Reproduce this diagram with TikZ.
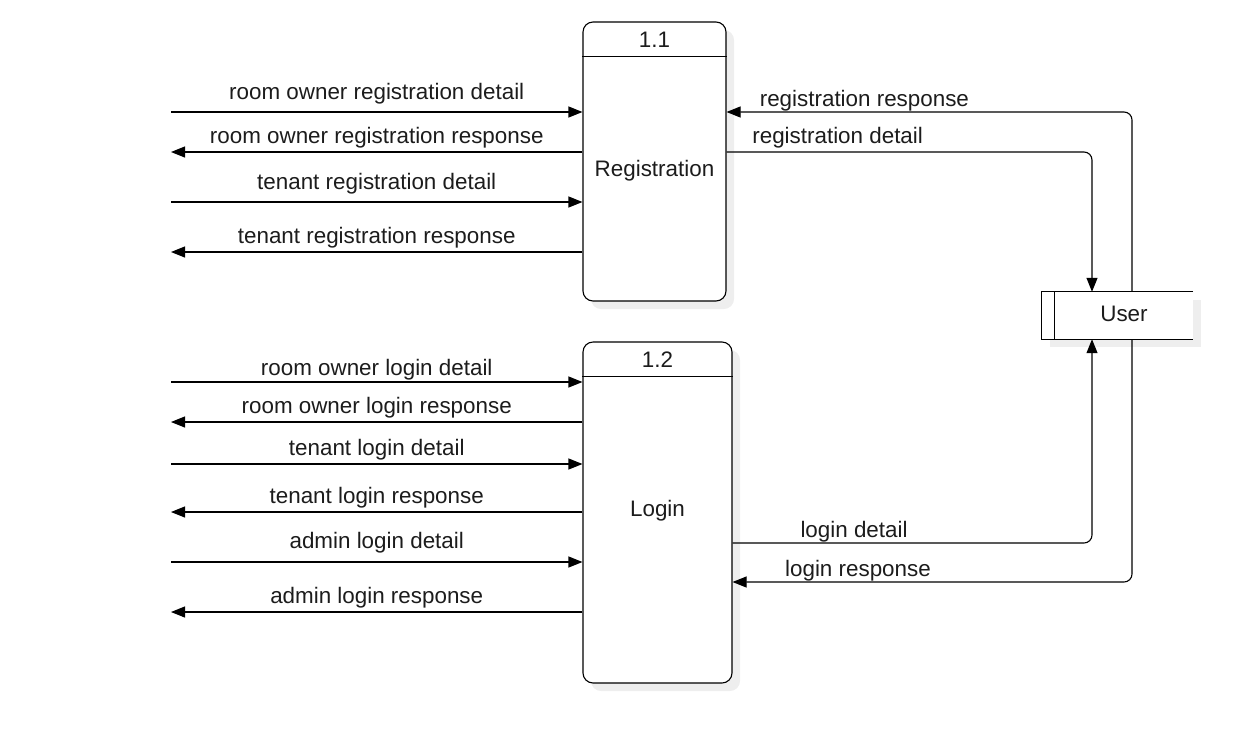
\documentclass[tikz,border=0pt]{standalone}
\usepackage{fontspec}
\setmainfont{Liberation Sans}
\usepackage{tikz}
\usetikzlibrary{arrows.meta,positioning,calc,shadows}
\definecolor{inkgray}{HTML}{1C1C1C}
\definecolor{shadegray}{HTML}{EEEEEE}
\tikzset{
  procbox/.style={rectangle, rounded corners=10pt, draw=black, line width=1.1pt, fill=white, inner sep=0pt,
                  drop shadow={shadow xshift=8pt, shadow yshift=-8pt, fill=shadegray, opacity=1}},
  storebox/.style={rectangle, draw=none, fill=white, inner sep=0pt, minimum width=151pt, minimum height=47pt,
                   drop shadow={shadow xshift=8pt, shadow yshift=-8pt, fill=shadegray, opacity=1}},
  lbl/.style={font=\fontsize{22.4}{26}\selectfont, text=inkgray, inner sep=3pt},
  flow/.style={-{Triangle[length=14pt, width=11pt]}, line width=1.1pt, rounded corners=8pt},
  edge/.style={line width=1.1pt},
}

\begin{document}
\begin{tikzpicture}[x=1pt, y=-1pt]
        \useasboundingbox (0,0) rectangle (1242,732);
        % processes and store
        \node[procbox, minimum width=143pt, minimum height=279pt] (reg) at (654.5,161.5) {};
        \node[procbox, minimum width=149pt, minimum height=341pt] (login) at (657.5,512.5) {};
        \node[storebox] (user) at (1117.5,315.5) {};
        \draw[edge] ([yshift=-35pt]reg.north west) -- ([yshift=-35pt]reg.north east);
        \draw[edge] ([yshift=-35pt]login.north west) -- ([yshift=-35pt]login.north east);
        \node[lbl] (regid) at ([yshift=-18pt]reg.north) {1.1};
        \node[lbl] (regname) at ([yshift=-9.5pt]reg.center) {Registration};
        \node[lbl] (loginid) at ([yshift=-18pt]login.north) {1.2};
        \node[lbl] (loginname) at ([yshift=1.5pt]login.center) {Login};
        \draw[edge] (user.north east) -- (user.north west) -- (user.south west) -- (user.south east);
        \draw[edge] ([xshift=13pt]user.north west) -- ([xshift=13pt]user.south west);
        \node[lbl] (username) at (1124,314) {User};
        % registration flows
        \coordinate (r1) at (171,112);
        \coordinate (r2) at (171,152);
        \coordinate (r3) at (171,202);
        \coordinate (r4) at (171,252);
        \draw[flow] (r1) -- (r1 -| reg.west) node[lbl, midway, above, yshift=4pt] {room owner registration detail};
        \draw[flow] (r2 -| reg.west) -- (r2) node[lbl, midway, above] {room owner registration response};
        \draw[flow] (r3) -- (r3 -| reg.west) node[lbl, midway, above, yshift=4pt] {tenant registration detail};
        \draw[flow] (r4 -| reg.west) -- (r4) node[lbl, midway, above] {tenant registration response};
        % login flows
        \coordinate (l1) at (171,382);
        \coordinate (l2) at (171,422);
        \coordinate (l3) at (171,464);
        \coordinate (l4) at (171,512);
        \coordinate (l5) at (171,562);
        \coordinate (l6) at (171,612);
        \draw[flow] (l1) -- (l1 -| login.west) node[lbl, midway, above, yshift=-2pt] {room owner login detail};
        \draw[flow] (l2 -| login.west) -- (l2) node[lbl, midway, above] {room owner login response};
        \draw[flow] (l3) -- (l3 -| login.west) node[lbl, midway, above] {tenant login detail};
        \draw[flow] (l4 -| login.west) -- (l4) node[lbl, midway, above] {tenant login response};
        \draw[flow] (l5) -- (l5 -| login.west) node[lbl, midway, above, yshift=5pt] {admin login detail};
        \draw[flow] (l6 -| login.west) -- (l6) node[lbl, midway, above] {admin login response};
        % user flows
        \coordinate (regresp) at ([xshift=14.5pt]user.north);
        \coordinate (regdet) at ([xshift=-25.5pt]user.north);
        \coordinate (logdet) at ([xshift=-25.5pt]user.south);
        \coordinate (logresp) at ([xshift=14.5pt]user.south);
        \coordinate (ld) at (1000,543);
        \coordinate (lr) at (1000,582);
        \draw[flow] (regresp) |- (reg.east |- r1) node[lbl, pos=0.83, above, yshift=-3pt] {registration response};
        \draw[flow] (reg.east |- r2) -| (regdet) node[lbl, pos=0.152, above] {registration detail};
        \draw[flow] (login.east |- ld) -| (logdet) node[lbl, pos=0.169, above, yshift=-3pt] {login detail};
        \draw[flow] (logresp) |- (login.east |- lr) node[lbl, pos=0.843, above, yshift=-3pt] {login response};
      \end{tikzpicture}
\end{document}
